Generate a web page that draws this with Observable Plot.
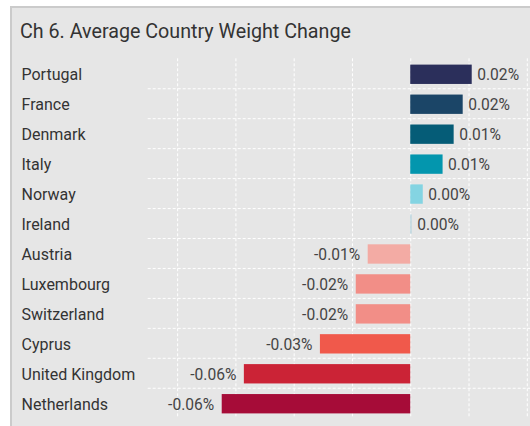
<!DOCTYPE html>
<html>
<head>
<meta charset="utf-8">
<script src="https://cdn.jsdelivr.net/npm/d3@7"></script>
<script src="https://cdn.jsdelivr.net/npm/@observablehq/plot@0.6"></script>
<style>
  html, body { margin: 0; padding: 0; background: #ffffff; }
  body { width: 530px; height: 426px; position: relative; overflow: hidden; font-family: Roboto, "Noto Sans", sans-serif; }
  #panel { position: absolute; left: 10px; top: 6px; width: 518px; height: 418px; background: #e6e6e6; border-left: 2px solid #cbcbcb; border-top: 2px solid #cbcbcb; }
  #title { position: absolute; left: 8px; top: 12px; font-size: 19.7px; color: #333333; white-space: nowrap; }
  #chart { position: absolute; left: 0px; top: 42px; line-height: 0; }
</style>
</head>
<body>
<div id="panel">
  <div id="title">Ch 6. Average Country Weight Change</div>
  <div id="chart"></div>
</div>
<script>
const countries = ["Portugal","France","Denmark","Italy","Norway","Ireland","Austria","Luxembourg","Switzerland","Cyprus","United Kingdom","Netherlands"];
const values = [0.0211, 0.0180, 0.0149, 0.0111, 0.0043, 0.0005, -0.0146, -0.0187, -0.0187, -0.0310, -0.0571, -0.0647];
const labels = ["0.02%","0.02%","0.01%","0.01%","0.00%","0.00%","-0.01%","-0.02%","-0.02%","-0.03%","-0.06%","-0.06%"];
const colors = ["#2b2f5b","#1b4567","#055c77","#0396ae","#84d4e2","#bcd6df","#f3aba4","#f28e87","#f28e87","#f0594b","#cb2336","#a60c38"];
const gridTicks = [-0.08, -0.06, -0.04, -0.02, 0, 0.02, 0.04];
const xDomain = [-0.0901, 0.0411];

const data = countries.map((c, i) => ({country: c, value: values[i], label: labels[i], color: colors[i]}));

const W = 518, H = 376;
const mT = 8.3, mB = 8.3;
const step = (H - mT - mB) / countries.length;

const plot = Plot.plot({
  width: W,
  height: H,
  marginLeft: 135.7,
  marginRight: 0,
  marginTop: mT,
  marginBottom: mB,
  style: {background: "transparent", fontFamily: "Roboto, sans-serif", overflow: "visible"},
  x: {domain: xDomain, axis: null},
  y: {domain: countries, padding: 0, round: false, axis: null},
  marks: [
    Plot.gridX(gridTicks, {stroke: "#ffffff", strokeOpacity: 1, strokeWidth: 1, strokeDasharray: "3,2"}),
    Plot.ruleY(countries.slice(1), {y: d => d, dy: -step / 2, stroke: "#ffffff", strokeOpacity: 1, strokeWidth: 1, strokeDasharray: "3,2"}),
    Plot.barX(data, {x1: 0, x2: "value", y: "country", fill: "color", insetTop: 6.3, insetBottom: 4.3}),
    Plot.text(data.filter(d => d.value >= 0), {x: "value", y: "country", text: "label", textAnchor: "start", dx: 5, dy: 1.5, fill: "#444444", fontSize: 15.6}),
    Plot.text(data.filter(d => d.value < 0), {x: "value", y: "country", text: "label", textAnchor: "end", dx: -8, dy: 1.5, fill: "#444444", fontSize: 15.6}),
    Plot.axisY({domain: countries, tickSize: 0, tickPadding: 126.7, textAnchor: "start", fontSize: 16, dy: 1.5, color: "#333333", label: null})
  ]
});
document.getElementById("chart").appendChild(plot);
</script>
</body>
</html>
